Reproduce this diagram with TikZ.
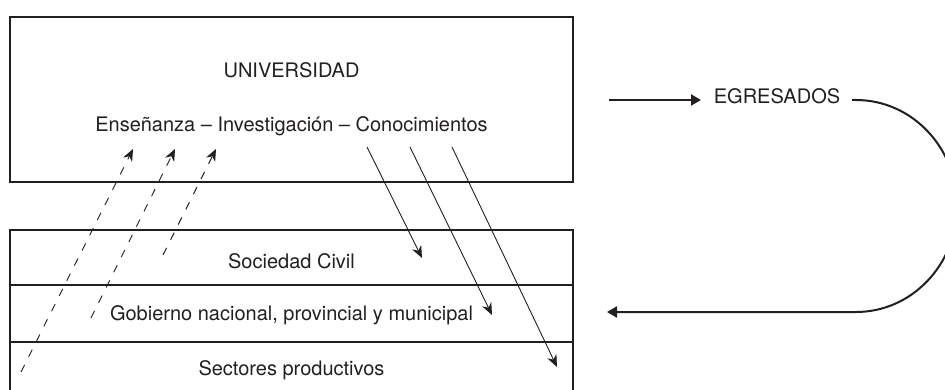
\documentclass[tikz,border=0pt]{standalone}
\usepackage{fontspec}
\setmainfont{TeX Gyre Heros}
\usetikzlibrary{arrows.meta}
\definecolor{ink}{HTML}{231F20}
\tikzset{
  boxframe/.style={draw=ink, line width=1.1pt, inner sep=0pt},
  lbl/.style={text=ink, font=\fontsize{20}{23}\selectfont, inner sep=0pt, anchor=base},
  flowin/.style={draw=ink, line width=0.9pt, dash pattern=on 8pt off 9pt, -{Stealth[length=12pt,width=10pt]}},
  flowout/.style={draw=ink, line width=0.9pt, -{Stealth[length=12pt,width=10pt]}},
  bigarrow/.style={draw=ink, line width=2pt, -{Triangle[length=10pt,width=11pt]}},
  bigline/.style={draw=ink, line width=2pt}
}
\begin{document}
\begin{tikzpicture}[x=1pt,y=-1pt]
\useasboundingbox (0,0) rectangle (945,390);
\clip (0,0) rectangle (945,390);
% boxes
\node[boxframe, minimum width=563pt, minimum height=165pt] (univ) at (291.5,99.5) {};
\node[boxframe, minimum width=563pt, minimum height=55pt] (soc) at (291.5,257.5) {};
\node[boxframe, minimum width=563pt, minimum height=57pt] (gob) at (291.5,313.5) {};
\node[boxframe, minimum width=563pt, minimum height=60pt] (sec) at (291.5,372) {};
% texts
\node[lbl] (tuniv) at (291.5,78) {UNIVERSIDAD};
\node[lbl] (tens) at (291.5,132) {Enseñanza – Investigación – Conocimientos};
\node[lbl] (tsoc) at (291.5,268) {Sociedad Civil};
\node[lbl] (tgob) at (291.5,320) {Gobierno nacional, provincial y municipal};
\node[lbl] (tsec) at (291.5,375) {Sectores productivos};
\node[lbl] (egr) at (777,104) {EGRESADOS};
% dashed arrows (upwards)
\coordinate (d1s) at (21,372);  \coordinate (d1e) at (133,149);
\coordinate (d2s) at (91,318);  \coordinate (d2e) at (175,149);
\coordinate (d3s) at (163,255); \coordinate (d3e) at (216,149);
\draw[flowin] (d1s) -- (d1e);
\draw[flowin] (d2s) -- (d2e);
\draw[flowin] (d3s) -- (d3e);
% solid arrows (downwards)
\coordinate (s1s) at (367,147); \coordinate (s1e) at (422,258);
\coordinate (s2s) at (410,147); \coordinate (s2e) at (492,315);
\coordinate (s3s) at (452,147); \coordinate (s3e) at (557,367);
\draw[flowout] (s1s) -- (s1e);
\draw[flowout] (s2s) -- (s2e);
\draw[flowout] (s3s) -- (s3e);
% egresados loop
\coordinate (ein) at (609,100);
\coordinate (etip) at (701,100);
\coordinate (eout) at (852,100);
\coordinate (ret) at (607,312);
\draw[bigarrow] (ein) -- (etip);
\draw[bigarrow] (eout) -- (856,100) arc[start angle=90, end angle=-90, x radius=101pt, y radius=106pt] -- (ret);
\end{tikzpicture}
\end{document}
